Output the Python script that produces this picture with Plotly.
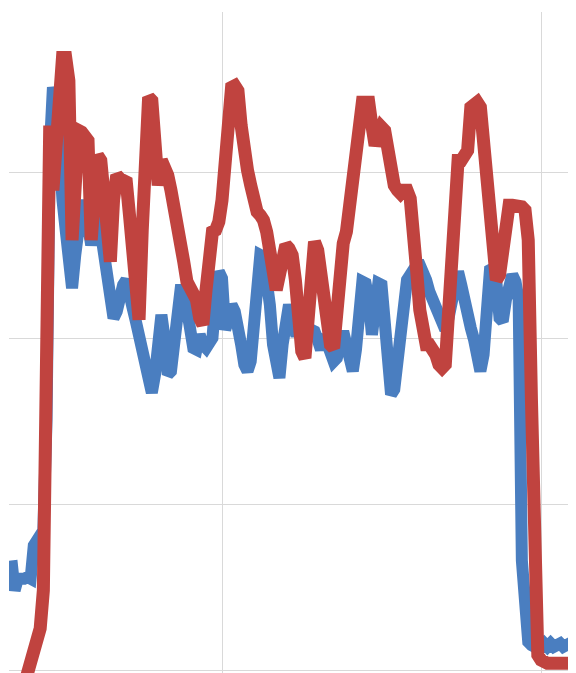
import plotly.graph_objects as go

# sample index (time steps)
t = list(range(34, 212))

blue = [
    0.66, 0.48, 0.55, 0.54, 0.55, 0.56, 0.55, 0.75, 0.80, 0.81,   # 34-43
    0.84, 1.51, 3.13, 3.51, 3.43, 2.89, 2.83, 2.65, 2.32, 2.30,   # 44-53
    2.50, 2.71, 2.80, 2.80, 2.68, 2.56, 2.65, 2.77, 2.64, 2.53,   # 54-63
    2.44, 2.28, 2.12, 2.16, 2.28, 2.32, 2.35, 2.29, 2.18, 2.10,   # 64-73
    2.02, 1.93, 1.84, 1.75, 1.67, 1.78, 2.02, 2.14, 2.00, 1.78,   # 74-83
    1.80, 1.99, 2.17, 2.29, 2.29, 2.17, 2.02, 1.94, 1.93, 2.02,   # 84-93
    1.96, 1.94, 1.97, 2.00, 2.23, 2.40, 2.36, 2.05, 2.11, 2.20,   # 94-103
    2.16, 2.08, 1.96, 1.84, 1.80, 1.86, 2.08, 2.40, 2.50, 2.49,   # 104-113
    2.38, 2.20, 1.96, 1.78, 1.76, 1.96, 2.17, 2.20, 2.12, 2.04,   # 114-123
    2.04, 2.00, 2.02, 2.06, 2.05, 2.04, 1.99, 1.93, 2.02, 1.96,   # 124-133
    1.87, 1.86, 1.88, 1.96, 2.04, 1.96, 1.84, 1.80, 1.93, 2.20,   # 134-143
    2.34, 2.33, 2.23, 2.02, 2.17, 2.33, 2.32, 2.11, 1.81, 1.66,   # 144-153
    1.69, 1.86, 2.14, 2.30, 2.35, 2.38, 2.42, 2.44, 2.44, 2.41,   # 154-163
    2.35, 2.28, 2.23, 2.18, 2.12, 2.08, 2.05, 2.12, 2.23, 2.36,   # 164-173
    2.40, 2.32, 2.20, 2.10, 2.06, 1.99, 1.86, 1.80, 1.90, 2.20,   # 174-183
    2.41, 2.42, 2.34, 2.12, 2.10, 2.23, 2.35, 2.38, 2.34, 2.23,   # 184-193
    0.66, 0.24, 0.17, 0.15, 0.14, 0.16, 0.14, 0.16, 0.14, 0.16,   # 194-203
    0.14, 0.15, 0.16, 0.14, 0.15, 0.16, 0.14, 0.15,               # 204-211
]

red = [
    -0.12, -0.12, -0.12, -0.11, -0.09, -0.03, 0.02, 0.09, 0.15, 0.25,  # 34-43
    0.48, 3.27, 3.28, 2.89, 3.19, 3.66, 3.69, 3.69, 3.55, 2.59,        # 44-53
    3.22, 3.25, 3.24, 3.22, 3.19, 2.59, 3.04, 3.10, 3.07, 2.83,        # 54-63
    2.59, 2.46, 2.83, 2.98, 2.96, 2.95, 2.94, 2.74, 2.53, 2.29,        # 64-73
    2.11, 2.65, 3.31, 3.45, 3.43, 3.25, 2.92, 3.07, 3.04, 2.98,        # 74-83
    2.89, 2.80, 2.68, 2.56, 2.46, 2.34, 2.29, 2.24, 2.23, 2.12,        # 84-93
    2.08, 2.29, 2.56, 2.64, 2.65, 2.70, 2.83, 3.13, 3.43, 3.51,        # 94-103
    3.52, 3.49, 3.28, 3.04, 3.01, 2.92, 2.80, 2.76, 2.74, 2.71,        # 104-113
    2.64, 2.53, 2.41, 2.29, 2.38, 2.52, 2.56, 2.54, 2.50, 2.35,        # 114-123
    2.08, 1.92, 1.88, 2.11, 2.53, 2.58, 2.53, 2.41, 2.23, 2.05,        # 124-133
    1.96, 1.94, 2.17, 2.46, 2.57, 2.64, 2.80, 2.94, 3.13, 3.36,        # 134-143
    3.42, 3.42, 3.42, 3.28, 3.16, 3.22, 3.27, 3.25, 3.13, 3.00,        # 144-153
    2.92, 2.89, 2.87, 2.89, 2.89, 2.84, 2.68, 2.41, 2.17, 2.00,        # 154-163
    1.96, 1.96, 1.94, 1.90, 1.84, 1.82, 1.84, 2.29, 2.68, 2.76,        # 164-173
    3.07, 3.07, 3.10, 3.13, 3.39, 3.42, 3.42, 3.39, 3.19, 2.89,        # 174-183
    2.62, 2.44, 2.35, 2.38, 2.56, 2.76, 2.80, 2.80, 2.80, 2.80,        # 184-193
    2.79, 2.77, 2.59, 1.63, 0.42, 0.09, 0.06, 0.04, 0.04, 0.04,        # 194-203
    0.03, 0.04, 0.04, 0.03, 0.04, 0.04, 0.03, 0.04,                    # 204-211
]

fig = go.Figure()
fig.add_trace(go.Scatter(x=t, y=blue, mode="lines",
                         line=dict(color="#4a7ec0", width=12), showlegend=False))
fig.add_trace(go.Scatter(x=t, y=red, mode="lines",
                         line=dict(color="#c0433f", width=13), showlegend=False))

grid = "#d9d9d9"
fig.update_layout(
    width=568, height=665,
    margin=dict(l=1, r=0, t=4, b=0),
    paper_bgcolor="white", plot_bgcolor="white",
    xaxis=dict(range=[33.23, 210.97], tick0=0, dtick=100, showgrid=True,
               gridcolor=grid, gridwidth=1, zeroline=False,
               showticklabels=False, ticks="", showline=False),
    yaxis=dict(range=[-0.018, 3.964], tick0=0, dtick=1, showgrid=True,
               gridcolor=grid, gridwidth=1, zeroline=True, zerolinecolor=grid,
               zerolinewidth=1, showticklabels=False, ticks="", showline=False),
)
fig.write_html("out.html")
